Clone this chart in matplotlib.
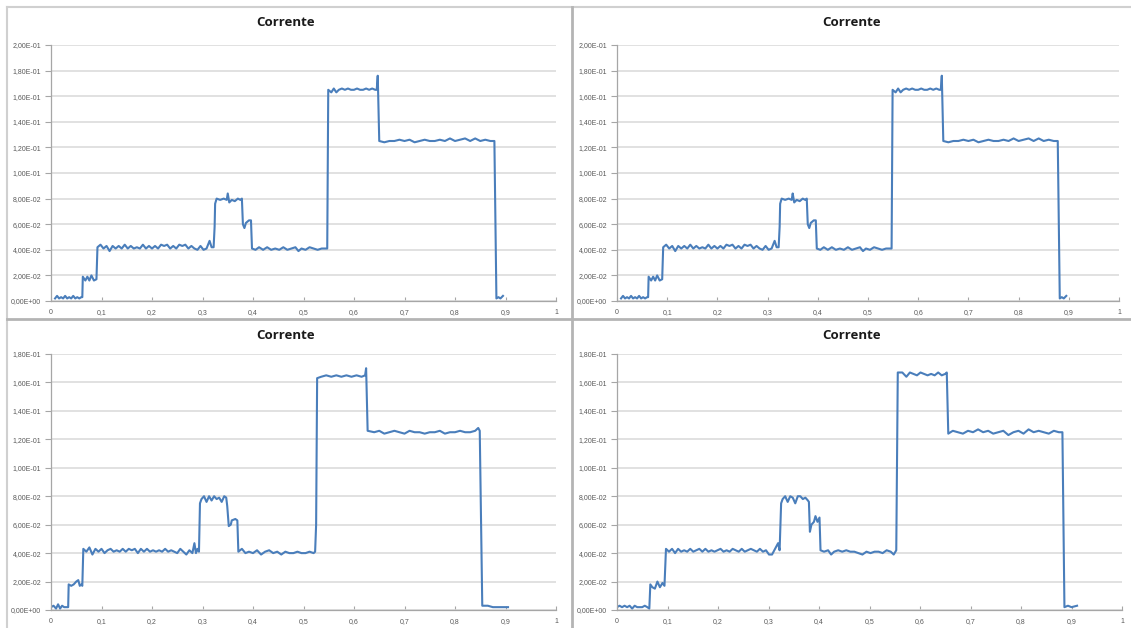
import matplotlib
matplotlib.use("Agg")
import matplotlib.pyplot as plt
from matplotlib.lines import Line2D
from matplotlib.ticker import FuncFormatter, MultipleLocator

W, H = 1131, 628

# Curva de corrente dos dois gráficos de cima (são a mesma)
x_top = [0.008, 0.012, 0.016, 0.020, 0.024, 0.028, 0.032, 0.036, 0.040, 0.044, 0.048, 0.052, 0.056, 0.060, 0.062,
         0.063, 0.068, 0.072, 0.076, 0.080, 0.085, 0.090,
         0.092, 0.098, 0.104, 0.110, 0.116, 0.122, 0.128, 0.134, 0.140, 0.146, 0.152, 0.158, 0.164, 0.170,
         0.176, 0.182, 0.188, 0.194, 0.200, 0.206, 0.212, 0.218, 0.224, 0.230, 0.236, 0.242, 0.248, 0.254,
         0.260, 0.266, 0.272, 0.278, 0.284, 0.290, 0.296, 0.302, 0.308, 0.314, 0.318, 0.322,
         0.324, 0.325, 0.328, 0.335, 0.342, 0.348, 0.350, 0.353, 0.358, 0.364, 0.370, 0.375, 0.378,
         0.380, 0.383, 0.386, 0.392, 0.396,
         0.398, 0.405, 0.412, 0.420, 0.428, 0.436, 0.444, 0.452, 0.460, 0.468, 0.476, 0.484, 0.490, 0.496,
         0.504, 0.512, 0.520, 0.528, 0.536, 0.544, 0.547,
         0.549, 0.555, 0.560, 0.565, 0.570, 0.576, 0.582, 0.588, 0.594, 0.600, 0.606, 0.612, 0.618, 0.624,
         0.630, 0.636, 0.642, 0.645, 0.647,
         0.650, 0.660, 0.670, 0.680, 0.690, 0.700, 0.710, 0.720, 0.730, 0.740, 0.750, 0.760, 0.770, 0.780,
         0.790, 0.800, 0.810, 0.820, 0.830, 0.840, 0.850, 0.860, 0.870, 0.878,
         0.882, 0.886, 0.890, 0.895]
y_top = [0.002, 0.004, 0.002, 0.003, 0.002, 0.004, 0.002, 0.003, 0.002, 0.004, 0.002, 0.003, 0.002, 0.003, 0.003,
         0.019, 0.016, 0.019, 0.016, 0.020, 0.016, 0.017,
         0.042, 0.044, 0.041, 0.043, 0.039, 0.043, 0.041, 0.043, 0.041, 0.044, 0.041, 0.043, 0.041, 0.042,
         0.041, 0.044, 0.041, 0.043, 0.041, 0.043, 0.041, 0.044, 0.043, 0.044, 0.041, 0.043, 0.041, 0.044,
         0.043, 0.044, 0.041, 0.043, 0.041, 0.040, 0.043, 0.040, 0.041, 0.047, 0.042, 0.042,
         0.058, 0.076, 0.080, 0.079, 0.080, 0.079, 0.084, 0.077, 0.079, 0.078, 0.080, 0.079, 0.080,
         0.060, 0.057, 0.061, 0.063, 0.063,
         0.041, 0.040, 0.042, 0.040, 0.042, 0.040, 0.041, 0.040, 0.042, 0.040, 0.041, 0.042, 0.039, 0.041,
         0.040, 0.042, 0.041, 0.040, 0.041, 0.041, 0.041,
         0.165, 0.163, 0.166, 0.163, 0.165, 0.166, 0.165, 0.166, 0.165, 0.165, 0.166, 0.165, 0.165, 0.166,
         0.165, 0.166, 0.165, 0.165, 0.176,
         0.125, 0.124, 0.125, 0.125, 0.126, 0.125, 0.126, 0.124, 0.125, 0.126, 0.125, 0.125, 0.126, 0.125,
         0.127, 0.125, 0.126, 0.127, 0.125, 0.127, 0.125, 0.126, 0.125, 0.125,
         0.002, 0.003, 0.002, 0.004]

# Gráfico de baixo à esquerda
x_bl = [0.000, 0.005, 0.010, 0.014, 0.018, 0.022, 0.026, 0.030, 0.034,
        0.035, 0.040, 0.045, 0.050, 0.054, 0.057, 0.060, 0.062,
        0.064, 0.070, 0.076, 0.082, 0.088, 0.094, 0.100, 0.106, 0.112, 0.118, 0.124, 0.130, 0.136, 0.142,
        0.148, 0.154, 0.160, 0.166, 0.172, 0.178, 0.184, 0.190, 0.196, 0.202, 0.208, 0.214, 0.220, 0.226,
        0.232, 0.238, 0.244, 0.250, 0.256, 0.262, 0.268, 0.274, 0.280, 0.284, 0.287, 0.290, 0.293,
        0.295, 0.298, 0.303, 0.308, 0.313, 0.318, 0.323, 0.328, 0.333, 0.338, 0.343, 0.347, 0.349,
        0.352, 0.356, 0.358, 0.365, 0.369,
        0.371, 0.378, 0.385, 0.392, 0.400, 0.408, 0.416, 0.424, 0.432, 0.440, 0.448, 0.456, 0.464, 0.472,
        0.480, 0.488, 0.496, 0.504, 0.512, 0.520, 0.523, 0.525,
        0.527, 0.535, 0.545, 0.555, 0.565, 0.575, 0.585, 0.595, 0.605, 0.615, 0.622, 0.624,
        0.627, 0.640, 0.650, 0.660, 0.670, 0.680, 0.690, 0.700, 0.710, 0.720, 0.730, 0.740, 0.750, 0.760,
        0.770, 0.780, 0.790, 0.800, 0.810, 0.820, 0.830, 0.840, 0.846, 0.849,
        0.854, 0.865, 0.875, 0.890, 0.905]
y_bl = [0.002, 0.003, 0.001, 0.004, 0.001, 0.003, 0.002, 0.002, 0.002,
        0.018, 0.017, 0.018, 0.020, 0.021, 0.017, 0.018, 0.017,
        0.043, 0.041, 0.044, 0.039, 0.043, 0.041, 0.043, 0.040, 0.042, 0.043, 0.041, 0.042, 0.041, 0.043,
        0.041, 0.043, 0.042, 0.043, 0.040, 0.043, 0.041, 0.043, 0.041, 0.042, 0.041, 0.042, 0.041, 0.043,
        0.041, 0.042, 0.041, 0.040, 0.043, 0.041, 0.039, 0.042, 0.040, 0.047, 0.040, 0.043, 0.041,
        0.075, 0.078, 0.080, 0.076, 0.080, 0.077, 0.080, 0.078, 0.079, 0.076, 0.080, 0.079, 0.073,
        0.059, 0.060, 0.063, 0.064, 0.063,
        0.041, 0.043, 0.040, 0.041, 0.040, 0.042, 0.039, 0.041, 0.042, 0.040, 0.041, 0.039, 0.041, 0.040,
        0.040, 0.041, 0.040, 0.040, 0.041, 0.040, 0.041, 0.060,
        0.163, 0.164, 0.165, 0.164, 0.165, 0.164, 0.165, 0.164, 0.165, 0.164, 0.165, 0.170,
        0.126, 0.125, 0.126, 0.124, 0.125, 0.126, 0.125, 0.124, 0.126, 0.125, 0.125, 0.124, 0.125, 0.125,
        0.126, 0.124, 0.125, 0.125, 0.126, 0.125, 0.125, 0.126, 0.128, 0.126,
        0.003, 0.003, 0.002, 0.002, 0.002]

# Gráfico de baixo à direita
x_br = [0.000, 0.005, 0.010, 0.015, 0.020, 0.025, 0.030, 0.035, 0.040, 0.045, 0.050, 0.055, 0.060, 0.064,
        0.066, 0.070, 0.075, 0.080, 0.085, 0.090, 0.094,
        0.097, 0.103, 0.109, 0.115, 0.121, 0.127, 0.133, 0.139, 0.145, 0.151, 0.157, 0.163, 0.169, 0.175,
        0.181, 0.187, 0.193, 0.199, 0.205, 0.211, 0.217, 0.223, 0.229, 0.235, 0.241, 0.247, 0.253, 0.259,
        0.265, 0.271, 0.277, 0.283, 0.289, 0.295, 0.301, 0.307, 0.313, 0.319, 0.322,
        0.325, 0.328, 0.333, 0.338, 0.343, 0.348, 0.353, 0.358, 0.363, 0.368, 0.373, 0.378, 0.380,
        0.382, 0.385, 0.390, 0.393, 0.397, 0.401,
        0.403, 0.410, 0.418, 0.424, 0.430, 0.438, 0.446, 0.454, 0.462, 0.470, 0.478, 0.486, 0.494, 0.502,
        0.510, 0.518, 0.526, 0.534, 0.542, 0.548, 0.553,
        0.556, 0.565, 0.573, 0.580, 0.587, 0.594, 0.601, 0.608, 0.615, 0.622, 0.629, 0.636, 0.643, 0.650, 0.653,
        0.656, 0.665, 0.675, 0.685, 0.695, 0.705, 0.715, 0.725, 0.735, 0.745, 0.755, 0.765, 0.775, 0.785,
        0.795, 0.805, 0.815, 0.825, 0.835, 0.845, 0.855, 0.865, 0.875, 0.882,
        0.886, 0.893, 0.900, 0.911]
y_br = [0.002, 0.003, 0.002, 0.003, 0.002, 0.003, 0.001, 0.003, 0.002, 0.002, 0.002, 0.003, 0.002, 0.001,
        0.018, 0.016, 0.015, 0.020, 0.016, 0.019, 0.017,
        0.043, 0.041, 0.043, 0.040, 0.043, 0.041, 0.042, 0.041, 0.043, 0.041, 0.042, 0.043, 0.041, 0.043,
        0.041, 0.042, 0.041, 0.042, 0.043, 0.041, 0.042, 0.041, 0.043, 0.042, 0.041, 0.043, 0.041, 0.042,
        0.043, 0.042, 0.041, 0.043, 0.041, 0.042, 0.039, 0.039, 0.043, 0.047, 0.042,
        0.075, 0.078, 0.080, 0.076, 0.080, 0.079, 0.075, 0.080, 0.080, 0.078, 0.079, 0.077, 0.076,
        0.055, 0.060, 0.062, 0.066, 0.062, 0.065,
        0.042, 0.041, 0.042, 0.039, 0.041, 0.042, 0.041, 0.042, 0.041, 0.041, 0.040, 0.039, 0.041, 0.040,
        0.041, 0.041, 0.040, 0.042, 0.041, 0.039, 0.042,
        0.167, 0.167, 0.164, 0.167, 0.166, 0.165, 0.167, 0.166, 0.165, 0.166, 0.165, 0.167, 0.165, 0.166, 0.167,
        0.124, 0.126, 0.125, 0.124, 0.126, 0.125, 0.127, 0.125, 0.126, 0.124, 0.125, 0.126, 0.123, 0.125,
        0.126, 0.124, 0.127, 0.125, 0.126, 0.125, 0.124, 0.126, 0.125, 0.125,
        0.002, 0.003, 0.002, 0.003]

title = "Corrente"
line_color = "#4a7ebb"
grid_color = "#d9d9d9"
axis_color = "#a6a6a6"
label_color = "#595959"


def fmt_y(v, pos):
    # estilo Excel pt-BR: 2,00E-01
    return f"{v:.2E}".replace(".", ",")


def fmt_x(v, pos):
    return f"{round(v, 1):g}".replace(".", ",")


def draw_panel(fig, left, right, top, bottom, ymax, x, y, title_x, title_y):
    # posições em pixels da imagem original
    ax = fig.add_axes([left / W, 1 - bottom / H, (right - left) / W, (bottom - top) / H])
    ax.plot(x, y, color=line_color, lw=1.5, solid_joinstyle="round")
    ax.set_xlim(0, 1)
    ax.set_ylim(0, ymax)
    ax.yaxis.set_major_locator(MultipleLocator(0.02))
    ax.xaxis.set_major_locator(MultipleLocator(0.1))
    ax.yaxis.set_major_formatter(FuncFormatter(fmt_y))
    ax.xaxis.set_major_formatter(FuncFormatter(fmt_x))
    ax.grid(axis="y", color=grid_color, lw=1.1)
    ax.set_axisbelow(True)
    for s in ["top", "right"]:
        ax.spines[s].set_visible(False)
    for s in ["left", "bottom"]:
        ax.spines[s].set_color(axis_color)
        ax.spines[s].set_linewidth(0.9)
    ax.tick_params(axis="y", direction="out", length=4, width=0.8, color=axis_color,
                   labelsize=5, labelcolor=label_color, pad=3)
    ax.tick_params(axis="x", direction="in", length=3, width=0.8, color=axis_color,
                   labelsize=5, labelcolor=label_color, pad=6)
    for lab in ax.get_xticklabels() + ax.get_yticklabels():
        lab.set_family("Liberation Sans")
    fig.text(title_x / W, 1 - title_y / H, title, ha="center", va="center",
             fontsize=9.5, fontweight="bold", family="Open Sans", color="#1a1a1a")
    return ax


fig = plt.figure(figsize=(W / 100, H / 100), dpi=100)
fig.patch.set_facecolor("white")

draw_panel(fig, 51, 556, 45, 301, 0.2, x_top, y_top, 286, 22)
draw_panel(fig, 617, 1119, 45, 301, 0.2, x_top, y_top, 852, 22)
draw_panel(fig, 51, 556, 354, 610, 0.18, x_bl, y_bl, 286, 335)
draw_panel(fig, 617, 1122, 354, 610, 0.18, x_br, y_br, 852, 335)

# molduras dos quadros (print de planilha)
frame = "#b4b4b4"
fig.add_artist(Line2D([7 / W, 1], [1 - 7 / H, 1 - 7 / H], color="#d0d0d0", lw=1.5))
fig.add_artist(Line2D([7 / W, 7 / W], [0, 1 - 7 / H], color="#d0d0d0", lw=1.5))
fig.add_artist(Line2D([571.5 / W, 571.5 / W], [0, 1 - 7 / H], color=frame, lw=2))
fig.add_artist(Line2D([7 / W, 1], [1 - 318.5 / H, 1 - 318.5 / H], color=frame, lw=2))

fig.savefig("out.png", dpi=100)
